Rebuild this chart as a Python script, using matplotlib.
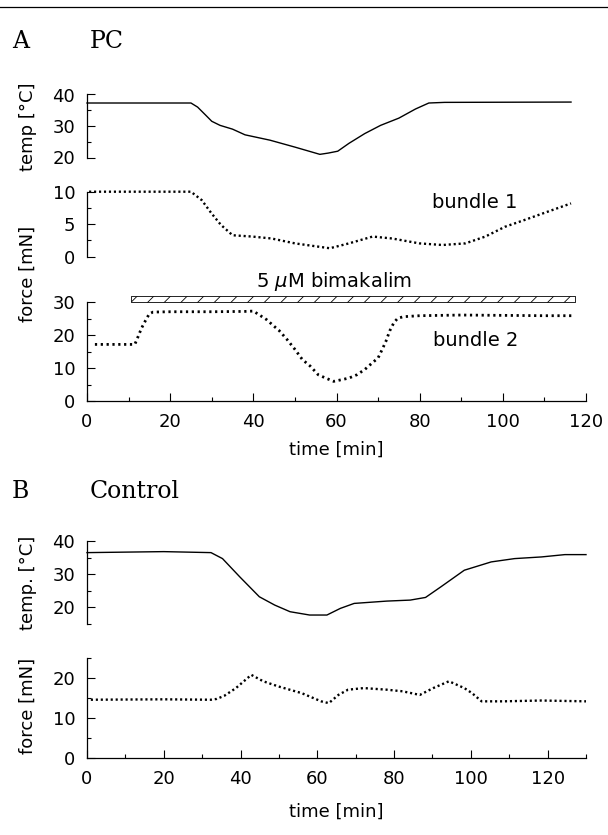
import matplotlib.pyplot as plt
from matplotlib.ticker import MultipleLocator
from matplotlib.lines import Line2D

# ---- panel A: PC ----
pc_temp_t = [0, 25, 26.6, 28.5, 30, 32, 35, 38, 44, 50, 56, 58, 60.3, 63, 66.8,
             70.6, 75, 79, 82.2, 86, 116.4]
pc_temp = [37.3, 37.3, 36, 33.5, 31.5, 30.2, 29, 27.2, 25.5, 23.3, 21, 21.4, 22,
           24.5, 27.6, 30.2, 32.5, 35.4, 37.3, 37.5, 37.6]

b1_t = [0.5, 25, 27.6, 29.9, 32.2, 35, 39.7, 44.4, 50, 55, 58.4, 63, 68.7, 73.4,
        79.9, 85.5, 91, 95.8, 100.5, 105, 109.8, 116.4]
b1_force = [10, 10, 8.7, 6.7, 4.9, 3.3, 3.1, 2.8, 2.05, 1.6, 1.3, 2.05, 3.1, 2.8,
            2.05, 1.8, 2.05, 3.1, 4.6, 5.6, 6.7, 8.2]

b2_t = [1.9, 11.5, 12.3, 13.1, 14.1, 15.0, 15.9, 20, 30, 38, 40, 41.6, 43.2, 44.8,
        46.2, 48.1, 50.0, 51.8, 53.7, 55.6, 57.4, 59.3, 61.2, 63.0, 64.9, 66.8,
        68.6, 70.0, 71.0, 71.9, 72.8, 73.8, 74.7, 76.1, 80, 90, 100, 110, 116.8]
b2_force = [17.3, 17.3, 19.7, 22.2, 24.6, 26.6, 27.1, 27.2, 27.2, 27.3, 27.4, 26.1,
            24.8, 23.0, 21.5, 18.8, 15.8, 12.7, 10.7, 8.1, 7.1, 6.1, 6.6, 7.1, 8.1,
            9.7, 11.7, 13.2, 15.8, 18.3, 21.4, 23.9, 25.2, 25.7, 26.0, 26.2, 26.1,
            26.0, 26.0]

bima_on, bima_off = 10.7, 117.3

# ---- panel B: control ----
ct_temp_t = [0, 20, 32.3, 35.3, 39.8, 44.9, 48.9, 52.9, 58, 62.5, 66, 69.6, 78.1,
             84.2, 88.2, 92.2, 98.3, 105.3, 111.4, 118.4, 124.5, 130]
ct_temp = [36.5, 36.8, 36.5, 34.7, 29.2, 23.2, 20.7, 18.7, 17.7, 17.7, 19.7, 21.2,
           21.9, 22.2, 23, 26.2, 31.2, 33.7, 34.7, 35.2, 35.9, 35.9]

ct_force_t = [1, 20, 32.3, 33.8, 35.8, 38.8, 42.8, 45.9, 49.9, 55.9, 61, 63, 65.5,
              68, 72.1, 78.1, 82.2, 86.7, 90.2, 94.3, 98.3, 100.3, 102.8, 108.4,
              118.4, 130]
ct_force = [14.6, 14.7, 14.6, 14.8, 15.6, 17.5, 20.8, 19.2, 17.9, 16.25, 14.2,
            13.75, 15.8, 17.1, 17.5, 17.1, 16.7, 15.8, 17.5, 19.2, 17.5, 16.25,
            14.2, 14.2, 14.4, 14.2]

plt.rcParams['font.family'] = 'DejaVu Sans'
plt.rcParams['font.size'] = 13
plt.rcParams['hatch.linewidth'] = 0.6

W, H = 608, 835
fig = plt.figure(figsize=(W / 100, H / 100), dpi=100)


def add_axes(x0, x1, ytop, ybot):
    return fig.add_axes([x0 / W, 1 - ybot / H, (x1 - x0) / W, (ybot - ytop) / H])


def style(ax, ymaj, ymin, bottom=False, xmax=120):
    for s in ['top', 'right']:
        ax.spines[s].set_visible(False)
    for s in ['left', 'bottom']:
        ax.spines[s].set_linewidth(0.9)
    ax.patch.set_alpha(0)
    ax.yaxis.set_major_locator(MultipleLocator(ymaj))
    ax.yaxis.set_minor_locator(MultipleLocator(ymin))
    ax.tick_params(which='both', direction='in', width=0.8, pad=8.5,
                   labelsize=13, right=False, top=False)
    ax.tick_params(which='major', length=6)
    ax.tick_params(which='minor', length=3)
    ax.set_xlim(0, xmax)
    if bottom:
        ax.xaxis.set_major_locator(MultipleLocator(20))
        ax.xaxis.set_minor_locator(MultipleLocator(10))
    else:
        ax.spines['bottom'].set_visible(False)
        ax.tick_params(which='both', bottom=False, labelbottom=False)


x0, x1 = 87, 586

# A temp
ax1 = add_axes(x0, x1, 94.5, 157.5)
ax1.plot(pc_temp_t, pc_temp, color='black', lw=1.0, clip_on=False)
ax1.set_ylim(20, 40)
style(ax1, 10, 5)

# A bundle 1
ax2 = add_axes(x0, x1, 191.7, 256.7)
ax2.plot(b1_t, b1_force, color='black', lw=1.7, ls=(0, (0.9, 1.2)), clip_on=False)
ax2.set_ylim(0, 10)
style(ax2, 5, 2.5)
ax2.text(83, 8.3, 'bundle 1', ha='left', va='center', fontsize=14)

# A bundle 2
ax3 = add_axes(x0, x1, 302.5, 401.5)
ax3.plot(b2_t, b2_force, color='black', lw=2.0, ls=(0, (0.8, 1.3)), clip_on=False)
ax3.set_ylim(0, 30)
style(ax3, 10, 5, bottom=True)
ax3.fill_between([bima_on, bima_off], 30, 32, facecolor='white', edgecolor='black',
                 hatch='//', lw=0.6, clip_on=False)
ax3.text(59.5, 36.4, r'5 $\mu$M bimakalim', ha='center', va='center', fontsize=14)
ax3.text(83.2, 18.6, 'bundle 2', ha='left', va='center', fontsize=14)

# B temp
ax4 = add_axes(x0, x1, 541, 624)
ax4.plot(ct_temp_t, ct_temp, color='black', lw=1.0, clip_on=False)
ax4.set_ylim(15, 40)
style(ax4, 10, 5, xmax=130)

# B force
ax5 = add_axes(x0, x1, 658, 758.3)
ax5.plot(ct_force_t, ct_force, color='black', lw=1.7, ls=(0, (0.9, 1.2)), clip_on=False)
ax5.set_ylim(0, 25)
style(ax5, 10, 5, bottom=True, xmax=130)

# labels
def ftext(x, y, s, **kw):
    fig.text(x / W, 1 - y / H, s, **kw)

ftext(28, 127, 'temp [°C]', rotation=90, ha='center', va='center')
ftext(28, 274, 'force [mN]', rotation=90, ha='center', va='center')
ftext(28, 583, 'temp. [°C]', rotation=90, ha='center', va='center')
ftext(28, 706, 'force [mN]', rotation=90, ha='center', va='center')
ftext(336, 450, 'time [min]', ha='center', va='center')
ftext(336, 812, 'time [min]', ha='center', va='center')

ftext(12, 42, 'A', family='DejaVu Serif', fontsize=17, va='center')
ftext(90, 42, 'PC', family='DejaVu Serif', fontsize=17, va='center')
ftext(12, 492, 'B', family='DejaVu Serif', fontsize=17, va='center')
ftext(90, 492, 'Control', family='DejaVu Serif', fontsize=17, va='center')

# rule across the top
fig.add_artist(Line2D([0, 1], [1 - 7 / H, 1 - 7 / H], color='black', lw=0.9))

fig.savefig('out.png', dpi=100)
